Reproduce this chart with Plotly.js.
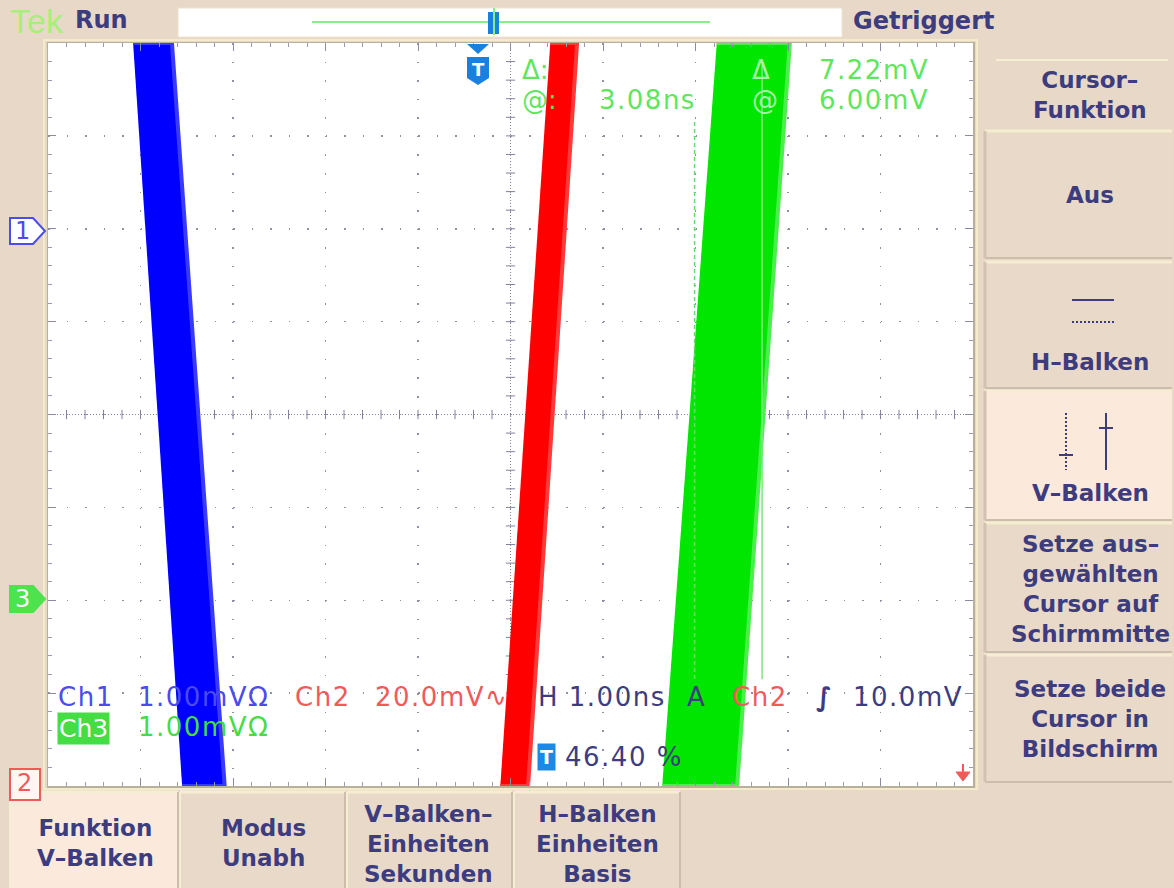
<!DOCTYPE html>
<html>
<head>
<meta charset="utf-8">
<script src="https://cdn.plot.ly/plotly-3.0.1.min.js"></script>
<style>
html,body{margin:0;padding:0;background:#e8d8c8;}
#chart{width:1174px;height:888px;}
</style>
</head>
<body>
<div id="chart"></div>
<script>
// ---------------- data (time in ns, 1 ns/div; vertical in divisions) ----------------
const bandY = [4, 4, -4, -4];                    // top-left, top-right, bottom-right, bottom-left
const ch1X = [-4.08, -3.66, -3.09, -3.55];       // Ch1 (blue) persistence band edges
const ch2X = [0.43, 0.72, 0.19, -0.11];          // Ch2 (red) persistence band edges
const ch3X = [2.23, 3.02, 2.45, 1.64];           // Ch3 (green) persistence band edges
const cursorDashX = [1.99, 1.99];
const cursorDashY = [3.15, -2.85];
const cursorSolidX = [2.72, 2.72];
const cursorSolidY = [3.8, -2.85];

const readoutRow1 = ['Ch1', '1.00mVΩ', 'Ch2', '20.0mV∿', 'H 1.00ns', 'A', 'Ch2', '∫', '10.0mV'];
const readoutRow2 = ['Ch3', '1.00mVΩ'];
const triggerPos = '46.40 %';
const cursorReadout = ['Δ:', '@:', '3.08ns', 'Δ', '@', '7.22mV', '6.00mV'];
const sideMenu = ['Cursor–<br>Funktion', 'Aus', 'H–Balken', 'V–Balken',
  'Setze aus–<br>gewählten<br>Cursor auf<br>Schirmmitte', 'Setze beide<br>Cursor in<br>Bildschirm'];
const bottomMenu = ['Funktion<br>V–Balken', 'Modus<br>Unabh', 'V–Balken–<br>Einheiten<br>Sekunden', 'H–Balken<br>Einheiten<br>Basis'];

// ---------------- helpers ----------------
const L = 48, R = 973, T = 43, B = 786;
const PX = x => (x - L) / (R - L);
const PY = y => (B - y) / (B - T);
const FONT = 'DejaVu Sans';
const NAVY = '#3c3c7e';
const BLUE = '#4b4bee';
const RED = '#f25a5a';
const GREEN = '#5ee65e';
const annotations = [];
const lsIdx = [];
function ann(text, x, y, o) {
  o = o || {};
  const a = {
    text: text, x: PX(x), y: PY(y), xref: 'paper', yref: 'paper',
    xanchor: o.xa || 'left', yanchor: o.ya || 'middle', showarrow: false,
    align: o.align || (o.xa === 'center' ? 'center' : 'left'),
    font: {family: o.family || FONT, size: o.size || 24, color: o.color || NAVY, weight: o.bold ? 'bold' : 'normal'},
    borderpad: o.pad === undefined ? 0 : o.pad
  };
  if (o.bg) a.bgcolor = o.bg;
  if (o.ls) lsIdx.push([annotations.length, o.ls]);
  annotations.push(a);
}
const shapes = [];
function rectPx(x0, y0, x1, y1, fill, lc, lw) {
  shapes.push({type: 'rect', xref: 'paper', yref: 'paper', x0: PX(x0), x1: PX(x1), y0: PY(y0), y1: PY(y1),
    fillcolor: fill || 'rgba(0,0,0,0)', line: {color: lc || 'rgba(0,0,0,0)', width: lw === undefined ? 0 : lw}, layer: 'above'});
}
function linePx(x0, y0, x1, y1, c, w, dash) {
  shapes.push({type: 'line', xref: 'paper', yref: 'paper', x0: PX(x0), x1: PX(x1), y0: PY(y0), y1: PY(y1),
    line: {color: c, width: w || 1, dash: dash || 'solid'}, layer: 'above'});
}
function pathPx(pts, fill, lc, lw) {
  const d = 'M' + pts.map(p => PX(p[0]) + ',' + PY(p[1])).join('L') + 'Z';
  shapes.push({type: 'path', xref: 'paper', yref: 'paper', path: d, fillcolor: fill,
    line: {color: lc || 'rgba(0,0,0,0)', width: lw || 0}, layer: 'above'});
}

// ---------------- traces ----------------
function band(xs, fill, edge) {
  return {x: xs, y: bandY, type: 'scatter', mode: 'lines', fill: 'toself', fillcolor: fill,
    line: {color: edge, width: 4}, hoverinfo: 'skip', showlegend: false};
}
const traces = [
  band(ch1X, '#0000ff', '#3a3aff'),
  band(ch2X, '#ff0000', '#ff3a3a'),
  band(ch3X, '#00e600', '#4cee4c'),
  {x: cursorDashX, y: cursorDashY, type: 'scatter', mode: 'lines', line: {color: '#66dd66', width: 1.5, dash: '4px,3px'}, hoverinfo: 'skip', showlegend: false},
  {x: cursorSolidX, y: cursorSolidY, type: 'scatter', mode: 'lines', line: {color: '#7ae87a', width: 1.5}, hoverinfo: 'skip', showlegend: false}
];

// ---------------- centre graticule lines with ticks ----------------
shapes.push({type: 'line', xref: 'x', yref: 'y', x0: 0, x1: 0, y0: -4, y1: 4, line: {color: '#8080a0', width: 1, dash: '1px,2px'}, layer: 'below'});
shapes.push({type: 'line', xref: 'x', yref: 'y', x0: -5, x1: 5, y0: 0, y1: 0, line: {color: '#8080a0', width: 1, dash: '1px,2px'}, layer: 'below'});
for (let i = -24; i <= 24; i++) {
  if (i === 0) continue;
  shapes.push({type: 'line', xref: 'x', yref: 'y', x0: i * 0.2, x1: i * 0.2, y0: -0.05, y1: 0.05, line: {color: '#8080a0', width: 1}, layer: 'below'});
}
for (let i = -19; i <= 19; i++) {
  if (i === 0) continue;
  shapes.push({type: 'line', xref: 'x', yref: 'y', x0: -0.05, x1: 0.05, y0: i * 0.2, y1: i * 0.2, line: {color: '#8080a0', width: 1}, layer: 'below'});
}

// ---------------- frame: top bar ----------------
rectPx(178, 8, 842, 37, '#ffffff', '#eee2cc', 1);
linePx(312, 22, 710, 22, '#88ee88', 2);
rectPx(488, 12, 499, 34, '#1a80e0');
linePx(494, 8, 494, 35, '#88ee88', 2);
ann('Tek', 9, 21, {color: '#a6f07a', size: 34, family: 'Liberation Sans'});
ann('Run', 74, 20, {color: NAVY, size: 24, bold: true});
ann('Getriggert', 852, 21, {color: NAVY, size: 24, bold: true});

// plot frame highlight
rectPx(44, 40, 977, 789, 'rgba(0,0,0,0)', '#f3ebc9', 2);

// ---------------- right menu ----------------
const MX0 = 985, MX1 = 1172, MC = 1090;
linePx(996, 60, 1168, 60, '#f6eed2', 2);
const btns = [[131, 258, false], [262, 388, false], [391, 520, true], [523, 652, false], [655, 782, false]];
btns.forEach(b => {
  rectPx(MX0, b[0], MX1, b[1], b[2] ? '#fbeadc' : '#e9d9c9');
  linePx(MX0, b[0], MX1, b[0], '#f6eed2', 3);
  linePx(MX0, b[1], MX1, b[1], '#cdbdac', 2);
  linePx(MX0, b[0], MX0, b[1], '#d2c2b2', 3);
});
ann(sideMenu[0], MC, 95, {xa: 'center', bold: true, size: 23});
ann(sideMenu[1], MC, 195, {xa: 'center', bold: true, size: 23});
linePx(1072, 300, 1114, 300, NAVY, 2);
linePx(1072, 322, 1114, 322, NAVY, 2, '2px,2px');
ann(sideMenu[2], MC, 362, {xa: 'center', bold: true, size: 23});
linePx(1066, 413, 1066, 470, NAVY, 2, '2px,2px');
linePx(1059, 455, 1073, 455, NAVY, 2);
linePx(1106, 413, 1106, 470, NAVY, 2);
linePx(1099, 428, 1113, 428, NAVY, 2);
ann(sideMenu[3], MC, 493, {xa: 'center', bold: true, size: 23});
ann(sideMenu[4], MC, 589, {xa: 'center', bold: true, size: 23});
ann(sideMenu[5], MC, 719, {xa: 'center', bold: true, size: 23});

// ---------------- bottom menu ----------------
const bb = [[10, 178, true], [180, 345, false], [347, 512, false], [514, 680, false]];
bb.forEach(b => {
  rectPx(b[0], 792, b[1], 888, b[2] ? '#fbeadc' : '#e9d9c9');
  linePx(b[0], 792, b[1], 792, '#f6eed2', 3);
  linePx(b[0], 792, b[0], 888, '#f6eed2', 2);
  linePx(b[1], 792, b[1], 888, '#cdbdac', 2);
});
ann(bottomMenu[0], 95, 843, {xa: 'center', bold: true, size: 23});
ann(bottomMenu[1], 263, 843, {xa: 'center', bold: true, size: 23});
ann(bottomMenu[2], 428, 844, {xa: 'center', bold: true, size: 23});
ann(bottomMenu[3], 597, 844, {xa: 'center', bold: true, size: 23});

// ---------------- channel markers ----------------
pathPx([[10, 218], [33, 218], [45, 231], [33, 244], [10, 244]], '#ffffff', BLUE, 2);
ann('1', 22, 231, {xa: 'center', color: BLUE, size: 24});
pathPx([[10, 586], [33, 586], [45, 599], [33, 612], [10, 612]], '#4ee24e', '#4ee24e', 2);
ann('3', 22, 599, {xa: 'center', color: '#ffffff', size: 24});
rectPx(10, 769, 40, 800, '#fff8f2', RED, 2);
ann('2', 24, 783, {xa: 'center', color: RED, size: 24});
pathPx([[956, 772], [970, 772], [963, 781]], RED, RED, 1);
linePx(963, 764, 963, 774, RED, 2);

// trigger marker at top of graticule
pathPx([[467, 44], [489, 44], [478, 54]], '#1a80e0');
pathPx([[467, 57], [489, 57], [489, 78], [478, 85], [467, 78]], '#1a80e0');
ann('T', 478, 69, {xa: 'center', color: '#ffffff', size: 18, bold: true});

// ---------------- cursor readouts ----------------
ann(cursorReadout[0], 521, 70, {color: GREEN, size: 26});
ann(cursorReadout[1], 521, 100, {color: GREEN, size: 26});
ann(cursorReadout[2], 598, 100, {color: GREEN, size: 26, ls: 1.5});
ann(cursorReadout[3], 751, 70, {color: '#a8f4a8', size: 26});
ann(cursorReadout[4], 751, 100, {color: '#a8f4a8', size: 26});
ann(cursorReadout[5], 818, 70, {color: GREEN, size: 26, ls: 1.5});
ann(cursorReadout[6], 818, 100, {color: GREEN, size: 26, ls: 1.5});

// ---------------- channel / timebase readouts ----------------
const row1X = [57, 137, 294, 374, 537, 686, 731, 815, 852];
const row1C = [BLUE, BLUE, RED, RED, NAVY, NAVY, RED, NAVY, NAVY];
readoutRow1.forEach((t, i) => ann(t, row1X[i], 697, {color: row1C[i], size: 26, ls: (i === 5 || i === 7) ? 0 : 1.5, bold: i === 7}));
ann(readoutRow2[0], 57, 728, {color: '#ffffff', size: 25, bg: '#44dd44', pad: 1});
ann(readoutRow2[1], 137, 727, {color: '#44dd44', size: 26, ls: 1.5});
ann('T', 546, 757, {xa: 'center', color: '#ffffff', size: 19, bold: true, bg: '#1a8ae8', pad: 2});
ann(triggerPos, 564, 757, {color: NAVY, size: 26, ls: 1.5});

// ---------------- layout ----------------
const layout = {
  width: 1174, height: 888,
  margin: {l: L, r: 1174 - R, t: T, b: 888 - B, pad: 0},
  paper_bgcolor: '#e8d8c8', plot_bgcolor: '#ffffff',
  showlegend: false,
  xaxis: {
    range: [-5, 5], dtick: 1, tick0: 0, showticklabels: false, zeroline: false,
    showgrid: true, gridcolor: '#9090a4', gridwidth: 1.5, griddash: '1.5px,17.08px',
    ticks: 'inside', ticklen: 8, tickcolor: '#8a8aa2', tickwidth: 1,
    showline: true, linecolor: '#b8b09c', linewidth: 1.5, mirror: 'ticks',
    minor: {ticks: 'inside', ticklen: 4, dtick: 0.2, tickcolor: '#9a9aae', showgrid: false},
    fixedrange: true
  },
  yaxis: {
    range: [-4, 4], dtick: 1, tick0: 0, showticklabels: false, zeroline: false,
    showgrid: true, gridcolor: '#9090a4', gridwidth: 1.5, griddash: '1.5px,17px',
    ticks: 'inside', ticklen: 8, tickcolor: '#8a8aa2', tickwidth: 1,
    showline: true, linecolor: '#b8b09c', linewidth: 1.5, mirror: 'ticks',
    minor: {ticks: 'inside', ticklen: 4, dtick: 0.2, tickcolor: '#9a9aae', showgrid: false},
    fixedrange: true
  },
  shapes: shapes,
  annotations: annotations
};

Plotly.newPlot('chart', traces, layout, {staticPlot: true, displayModeBar: false}).then(gd => {
  const nodes = gd.querySelectorAll('.annotation');
  lsIdx.forEach(([i, ls]) => {
    nodes.forEach(n => {
      if (+n.getAttribute('data-index') === i) {
        n.querySelectorAll('text').forEach(t => { t.style.letterSpacing = ls + 'px'; });
      }
    });
  });
});
</script>
</body>
</html>
